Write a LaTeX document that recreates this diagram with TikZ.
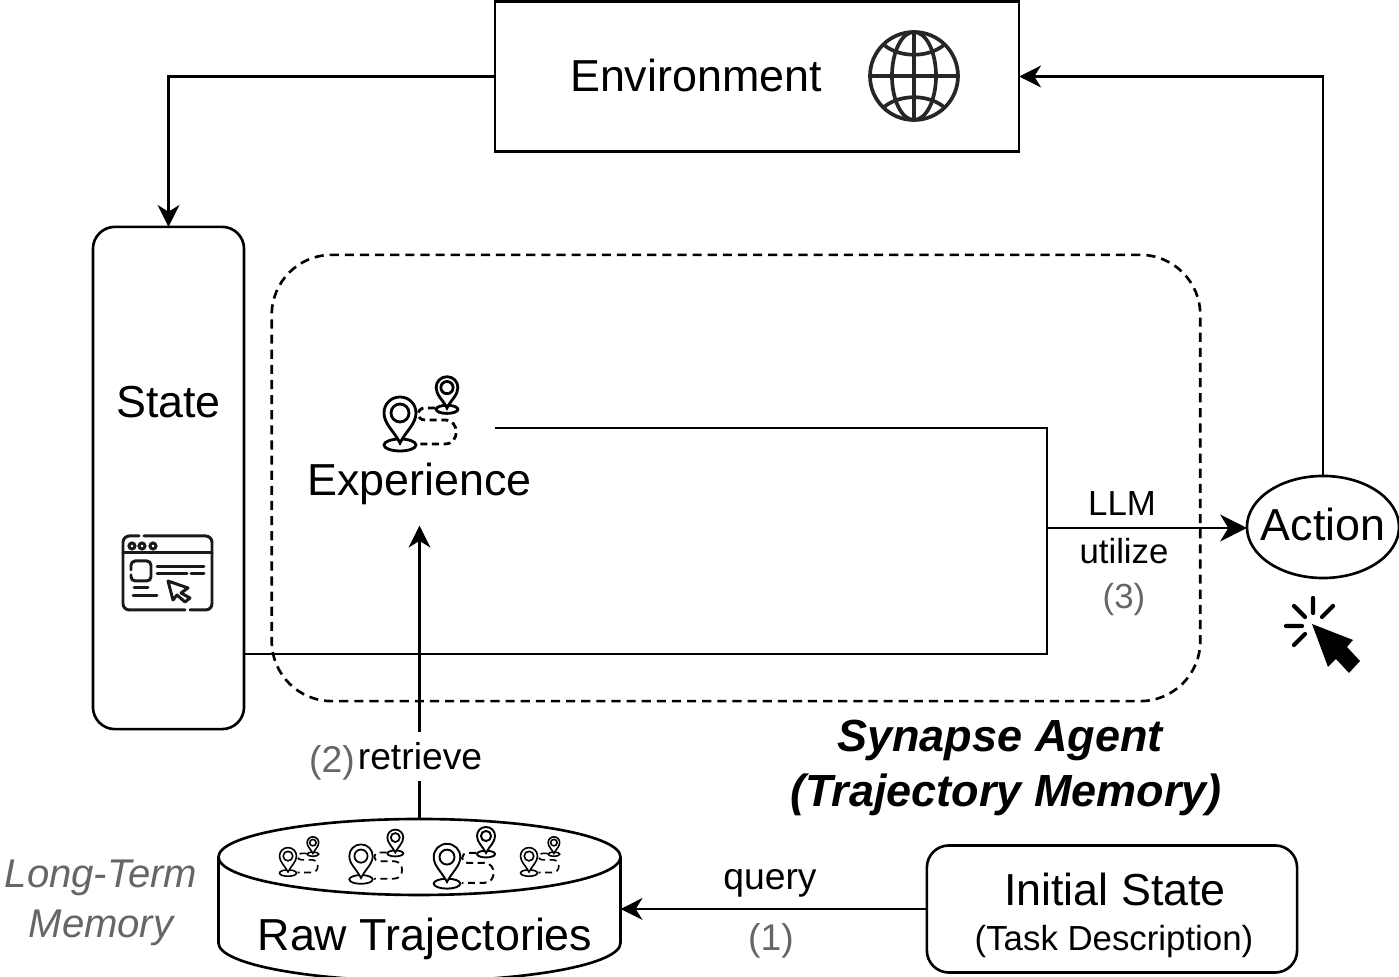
\documentclass[tikz,border=0pt]{standalone}
\usepackage{fontspec}
\setmainfont{Liberation Sans}
\usetikzlibrary{shapes,arrows.meta}
\definecolor{labelgray}{HTML}{666666}
\tikzstyle{box}=[rectangle, draw=black, line width=0.75pt, inner sep=0pt, outer sep=0pt]
\tikzstyle{roundbox}=[box, rounded corners=0.22cm]
\tikzstyle{bigtext}=[anchor=base, inner sep=0pt, font=\fontsize{12.75}{15}\selectfont]
\tikzstyle{smalltext}=[anchor=base, inner sep=0pt, font=\fontsize{9.9}{12}\selectfont]
\tikzstyle{midtext}=[anchor=base, inner sep=0pt, font=\fontsize{10.6}{12}\selectfont]
\tikzstyle{grouptext}=[anchor=base, inner sep=0pt, font=\fontsize{12.8}{15}\selectfont\bfseries\itshape]
\tikzstyle{memtext}=[anchor=base, inner sep=0pt, text=labelgray, font=\fontsize{11.4}{13}\selectfont\itshape]
\tikzstyle{link}=[draw=black, line width=0.75pt]
\tikzstyle{flow}=[link, -{Stealth[length=6.2pt,width=6.2pt,inset=1.9pt]}]
\tikzstyle{bigflow}=[link, -{Stealth[length=7.6pt,width=7.6pt,inset=2.3pt]}]
\tikzset{
    mappin/.pic={
        \draw[fill=white] (0,2) ellipse [x radius=16, y radius=6];
        \draw[fill=white] (0,0) .. controls (-6,-12) and (-16,-19) .. (-16,-30)
            .. controls (-16,-39) and (-9,-46) .. (0,-46)
            .. controls (9,-46) and (16,-39) .. (16,-30)
            .. controls (16,-19) and (6,-12) .. (0,0) -- cycle;
        \draw (0,-30) circle [radius=9];
    },
    route/.pic={
        \draw[dash pattern=on 2pt off 1.3pt] (35,-35) -- (25,-35) .. controls (16,-35) and (16,-23) .. (25,-23)
            -- (45,-23) .. controls (60,-23) and (60,1) .. (45,1) -- (18,1);
        \pic[transform shape] at (0,0) {mappin};
        \pic[transform shape, scale=0.68] at (47,-35) {mappin};
    }
}
\begin{document}
\begin{tikzpicture}[x=0.01cm, y=-0.01cm]
    \useasboundingbox (0,0) rectangle (1399,977);

    % main blocks
    \node (agent)[box, dashed, dash pattern=on 2.6pt off 1.7pt, rounded corners=0.6cm, minimum width=9.28cm, minimum height=4.46cm] at (736,478) {};
    \node (env)[box, minimum width=5.24cm, minimum height=1.5cm] at (757,76.5) {};
    \node (state)[roundbox, minimum width=1.51cm, minimum height=5.02cm] at (168.5,478) {};
    \node (action)[box, ellipse, minimum width=1.52cm, minimum height=1.02cm] at (1323,527) {};
    \node (initial)[roundbox, minimum width=3.7cm, minimum height=1.27cm] at (1112,909) {};
    \node (raw)[inner sep=0pt, outer sep=0pt, minimum width=4.02cm, minimum height=1.61cm] at (419.5,900) {};
    \node (experience)[minimum height=0.82cm, inner sep=0pt, font=\fontsize{12.75}{15}\selectfont] at (419.5,484) {Experience};

    % cylinder of the long-term memory
    \draw[link] (419.5,857) ellipse [x radius=201, y radius=38];
    \draw[link] (218.5,857) -- (218.5,943) arc [start angle=180, end angle=0, x radius=201, y radius=38] -- (620.5,857);

    % free ends of the merged line
    \coordinate (expout) at (495,428);
    \coordinate (mergetop) at (1047,428);
    \coordinate (mergebot) at (1047,654);
    \coordinate (merge) at (1047,528);

    % connectors
    \draw[flow] (env.west) -| (state.north);
    \draw[flow] (action.north) |- (env.east);
    \draw[link] (expout) -- (mergetop) -- (mergebot) -- (state.east |- mergebot);
    \draw[bigflow] (merge) -- (action.west |- merge);
    \draw[flow] (raw.north) -- (experience.south);
    \draw[flow] (initial.west) -- (raw.east |- initial.west);

    % labels
    \node (envtext)[bigtext] at (696,92) {Environment};
    \node (statetext)[bigtext] at (168.5,418) {State};
    \node (actiontext)[bigtext] at (1323,541) {Action};
    \node (inittext)[bigtext] at (1115,906) {Initial State};
    \node (tasktext)[smalltext] at (1114,951) {(Task Description)};
    \node (rawtext)[bigtext] at (425,951) {Raw Trajectories};
    \node (llm)[smalltext] at (1122,516) {LLM};
    \node (utilize)[smalltext] at (1124,564) {utilize};
    \node (three)[smalltext, text=labelgray] at (1124,609) {(3)};
    \node (retrieve)[midtext, fill=white, inner ysep=3pt, inner xsep=1pt] at (420,770) {retrieve};
    \node (two)[midtext, text=labelgray] at (332,773) {(2)};
    \node (query)[midtext] at (770,890) {query};
    \node (one)[midtext, text=labelgray] at (771,951) {(1)};
    \node (synapse)[grouptext] at (1000,752) {Synapse Agent};
    \node (trajmem)[grouptext] at (1006,807) {(Trajectory Memory)};
    \node (longterm)[memtext] at (101,888) {Long-Term};
    \node (memory)[memtext] at (101,938) {Memory};

    % trajectory icons
    \pic[line width=0.8pt] at (400,443) {route};
    \pic[line width=0.45pt, scale=0.53] at (288,872) {route};
    \pic[line width=0.5pt, scale=0.73] at (361,878) {route};
    \pic[line width=0.55pt, scale=0.83] at (447,882) {route};
    \pic[line width=0.45pt, scale=0.53] at (529,872) {route};

    % globe
    \begin{scope}[shift={(914,76)}, line width=1.05pt, black!85]
        \draw (0,0) circle [radius=44];
        \draw (0,0) ellipse [x radius=22, y radius=44];
        \draw (-44,0) -- (44,0) (0,-44) -- (0,44);
        \draw (-30,-31) .. controls (-14,-18) and (14,-18) .. (30,-31);
        \draw (-30,31) .. controls (-14,18) and (14,18) .. (30,31);
    \end{scope}

    % browser window
    \begin{scope}[line width=0.85pt, line cap=round, black!90]
        \draw[rounded corners=1.8pt] (139,536) -- (123,536) -- (123,610) -- (185,610);
        \draw[rounded corners=1.8pt] (144,536) -- (212,536) -- (212,610) -- (190,610);
        \draw (123,553) -- (212,553);
        \foreach \cx in {132,142,153}
            \draw (\cx,546) circle [radius=3];
        \draw[rounded corners=1.2pt] (131,570) -- (131,561) -- (151,561) -- (151,581) -- (131,581) -- (131,575);
        \draw (157,567) -- (204,567) (157,574) -- (187,574) (191,574) -- (204,574);
        \draw (134,588) -- (148,588) (133,596) -- (157,596);
        \draw[line join=round] (168,581) -- (188,588) -- (181,593) -- (190,598) -- (185,602) -- (177,595) -- (173,600) -- cycle;
    \end{scope}

    % click cursor
    \fill[line join=round] (1312,624) -- (1353,640) -- (1347,647) -- (1360,661) -- (1349,673) -- (1336,659) -- (1328,667) -- cycle;
    \draw[line width=1.2pt, line cap=round] (1313,598) -- (1313,613) (1294,606) -- (1305,617) (1333,606) -- (1322,617)
        (1286,626) -- (1302,626) (1305,634) -- (1294,645);
\end{tikzpicture}
\end{document}
